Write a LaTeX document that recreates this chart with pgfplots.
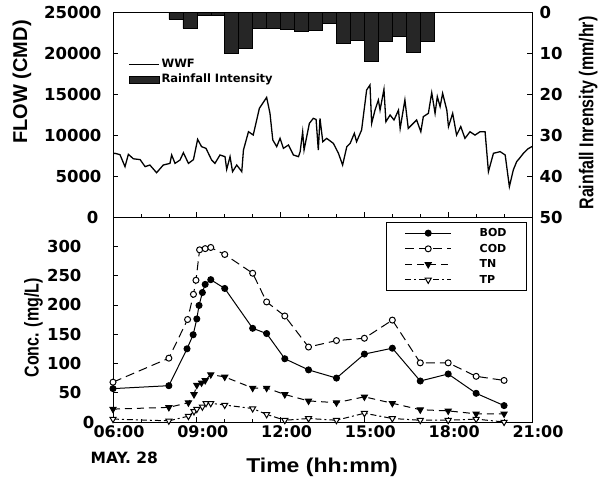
\documentclass[border=0pt]{standalone}
\usepackage{fontspec}
\usepackage{pgfplots}
\pgfplotsset{compat=1.18}
\setmainfont{Liberation Sans}
\newfontfamily\tickf{DejaVu Sans}
\newfontfamily\narrowf{Liberation Sans}[FakeStretch=0.8]
\newfontfamily\timef{Liberation Sans}[FakeStretch=1.15]
\begin{document}
\begin{tikzpicture}[x=1pt,y=1pt]
\path[use as bounding box] (-113,-58) rectangle (496,422);
\pgfplotsset{base/.style={width=419pt,height=205pt,scale only axis,xmin=6,xmax=21,
  axis line style={line width=0.9pt}, tick style={black,line width=0.7pt},
  major tick length=5pt, minor tick length=3pt,
  /pgf/number format/assume math mode=true, /pgf/number format/1000 sep={},
  scaled y ticks=false,
  ticklabel style={font=\fontsize{16.5}{18}\selectfont\tickf\bfseries}}}

% ---------- top panel: flow ----------
\begin{axis}[base, at={(0pt,205pt)}, anchor=south west,
  ymin=0, ymax=25000, ytick={0,5000,...,25000}, ytick pos=left,
  xtick={6,9,...,21}, xticklabels={}, minor xtick={7,8,...,20}, xtick pos=bottom,
  yticklabels={{0\hspace*{3pt}},5000,10000,15000,20000,25000},
  yticklabel shift=8pt,
  ylabel={FLOW (CMD)},
  ylabel style={at={(axis description cs:-0.217,0.659)}, anchor=center, font=\fontsize{20}{22}\selectfont\bfseries},
  legend style={at={(axis description cs:0.036,0.79)}, anchor=north west, draw=none, fill=none,
    inner xsep=0pt, font=\fontsize{11.5}{13}\selectfont\tickf\bfseries, row sep=1pt},
  legend cell align=left,
  legend image code/.code={\draw[#1] (0pt,0pt) -- (30pt,0pt);}]
\addplot[black, line width=1.3pt] coordinates {
(6.00,7700)(6.07,7770)(6.25,7600)(6.43,6140)(6.55,7640)(6.73,7100)(6.97,7000)(7.15,6140)(7.32,6340)(7.56,5400)(7.80,6340)
(8.04,6540)(8.10,7560)(8.22,6540)(8.40,6950)(8.52,7840)(8.70,6540)(8.88,7000)(9.03,9470)(9.17,8580)(9.33,8370)
(9.53,6950)(9.65,6540)(9.83,7560)(10.01,7360)(10.07,5810)(10.19,7360)(10.28,5530)(10.43,6340)(10.61,5530)(10.67,8170)
(10.85,10400)(11.02,10000)(11.24,13250)(11.50,14590)(11.62,12640)(11.72,9400)(11.86,8580)(11.98,9600)(12.10,8370)
(12.28,8780)(12.46,7560)(12.64,7360)(12.70,7970)(12.79,10400)(12.84,8170)(13.03,11420)(13.17,12030)(13.27,11900)
(13.35,8170)(13.41,12030)(13.51,9180)(13.65,9590)(13.89,8980)(14.07,7770)(14.22,6340)(14.37,8580)(14.49,8980)
(14.64,10200)(14.72,9180)(14.90,10610)(15.08,15490)(15.20,16100)(15.26,11420)(15.38,13040)(15.50,14270)(15.56,13040)
(15.70,15570)(15.77,11620)(15.92,12440)(16.06,11830)(16.22,13040)(16.28,10800)(16.45,14270)(16.57,10800)(16.69,11220)
(16.87,11830)(17.02,10400)(17.11,12240)(17.29,12640)(17.41,15160)(17.53,12640)(17.61,14680)(17.71,13460)(17.80,15080)
(17.95,13040)(18.01,11020)(18.16,12640)(18.30,9990)(18.45,11020)(18.60,9590)(18.78,10400)(18.96,9990)(19.14,10400)
(19.32,10400)(19.44,5530)(19.62,7770)(19.86,7970)(20.04,7560)(20.19,3700)(20.33,5730)(20.45,6750)(20.55,7150)
(20.70,7800)(20.85,8300)(21.00,8600)};
\addlegendentry{WWF}
\addlegendimage{legend image code/.code={\draw[fill=black!85,draw=black] (0pt,-3.5pt) rectangle (30pt,3.5pt);}}
\addlegendentry{Rainfall Intensity}
\end{axis}

% ---------- top panel: rainfall ----------
\begin{axis}[base, at={(0pt,205pt)}, anchor=south west,
  ymin=0, ymax=50, y dir=reverse, axis x line=none, axis y line*=right,
  ytick={0,10,...,50}, yticklabel shift=4pt,
  ylabel={Rainfall Inrensity (mm/hr)},
  ylabel style={at={(axis description cs:1.134,0.507)}, anchor=center, font=\fontsize{20}{22}\selectfont\narrowf\bfseries}]
\addplot[ybar interval, fill=black!85, draw=black, line width=0.5pt] coordinates {
(8.0,1.8)(8.5,4.0)(9.0,0.7)(9.5,0.7)(10.0,10.0)(10.5,8.9)(11.0,4.0)(11.5,4.0)(12.0,4.2)(12.5,4.6)
(13.0,4.4)(13.5,2.8)(14.0,7.6)(14.5,6.8)(15.0,12.0)(15.5,7.2)(16.0,6.0)(16.5,9.7)(17.0,7.2)(17.5,0)};
\end{axis}

% ---------- bottom panel: concentrations ----------
\begin{axis}[base, at={(0pt,0pt)}, anchor=south west, clip=false,
  ymin=0, ymax=350, ytick={0,50,...,300}, ytick pos=left,
  yticklabels={{0\hspace*{15pt}},{50\hspace*{28pt}},{100\hspace*{28pt}},{150\hspace*{28pt}},{200\hspace*{28pt}},{250\hspace*{28pt}},{300\hspace*{28pt}}},
  xtick={6,9,...,21}, xticklabels={06:00,09:00,12:00,15:00,18:00,21:00},
  minor xtick={7,8,...,20}, xtick pos=bottom,
  xticklabel style={xshift=6pt, font=\fontsize{16}{18}\selectfont\tickf\bfseries},
  xlabel={Time (hh:mm)},
  xlabel style={at={(axis description cs:0.499,-0.22)}, anchor=center, font=\fontsize{20}{22}\selectfont\timef\bfseries},
  ylabel={Conc. (mg/L)},
  ylabel style={at={(axis description cs:-0.19,0.459)}, anchor=center, font=\fontsize{20}{22}\selectfont\narrowf\bfseries},
  legend style={at={(axis description cs:0.988,0.976)}, anchor=north east, draw=black, line width=0.8pt, fill=white,
    font=\fontsize{11}{12}\selectfont\tickf\bfseries, row sep=2pt, inner xsep=18pt, inner ysep=4pt,
    /tikz/every odd column/.append style={column sep=26pt}},
  legend cell align=left,
  legend image code/.code={\draw[mark repeat=2,mark phase=2,#1] plot coordinates {(0pt,0pt) (23pt,0pt) (46pt,0pt)};}]
\addplot[black, line width=1pt, mark=*, mark size=3pt, mark options={solid, fill=black}] coordinates {
(6.0,57)(8.0,62)(8.65,125)(8.87,149)(9.0,176)(9.08,199)(9.2,221)(9.3,235)(9.5,243)(10.0,228)(11.0,160)(11.5,151)
(12.15,108)(13.0,89)(14.0,75)(15.0,116)(16.0,126)(17.0,70)(18.0,82)(19.0,49)(20.0,28)};
\addlegendentry{BOD}
\addplot[black, line width=1pt, dash pattern=on 9pt off 5pt, mark=*, mark size=3pt, mark options={solid, fill=white}] coordinates {
(6.0,68)(8.0,109)(8.67,175)(8.88,218)(8.97,242)(9.1,294)(9.3,296)(9.5,298)(10.0,286)(11.0,254)(11.5,205)
(12.15,181)(13.0,128)(14.0,139)(15.0,143)(16.0,174)(17.0,101)(18.0,101)(19.0,78)(20.0,71)};
\addlegendentry{COD}
\addplot[black, line width=1pt, dash pattern=on 7pt off 5pt, mark=triangle*, mark size=3.5pt, mark options={solid, rotate=180, fill=black}] coordinates {
(6.0,22)(8.0,25)(8.7,33)(8.9,47)(9.0,63)(9.17,67)(9.3,71)(9.5,81)(10.0,77)(11.0,58)(11.5,58)
(12.15,47)(13.0,36)(14.0,33)(15.0,43)(16.0,32)(17.0,21)(18.0,19)(19.0,14)(20.0,14)};
\addlegendentry{TN}
\addplot[black, line width=1pt, dash pattern=on 6pt off 3pt on 2pt off 3pt, mark=triangle*, mark size=3.5pt, mark options={solid, rotate=180, fill=white}] coordinates {
(6.0,5)(8.0,2)(8.7,10)(8.9,18)(9.0,22)(9.2,26)(9.33,32)(9.5,32)(10.0,29)(11.0,23)(11.5,13)
(12.15,3)(13.0,6)(14.0,3)(15.0,15)(16.0,6)(17.0,3)(18.0,3)(19.0,5)(20.0,0)};
\addlegendentry{TP}
\node[font=\fontsize{15.5}{17}\selectfont\tickf\bfseries] at (axis description cs:0.027,-0.176) {MAY. 28};
\end{axis}
\end{tikzpicture}
\end{document}
